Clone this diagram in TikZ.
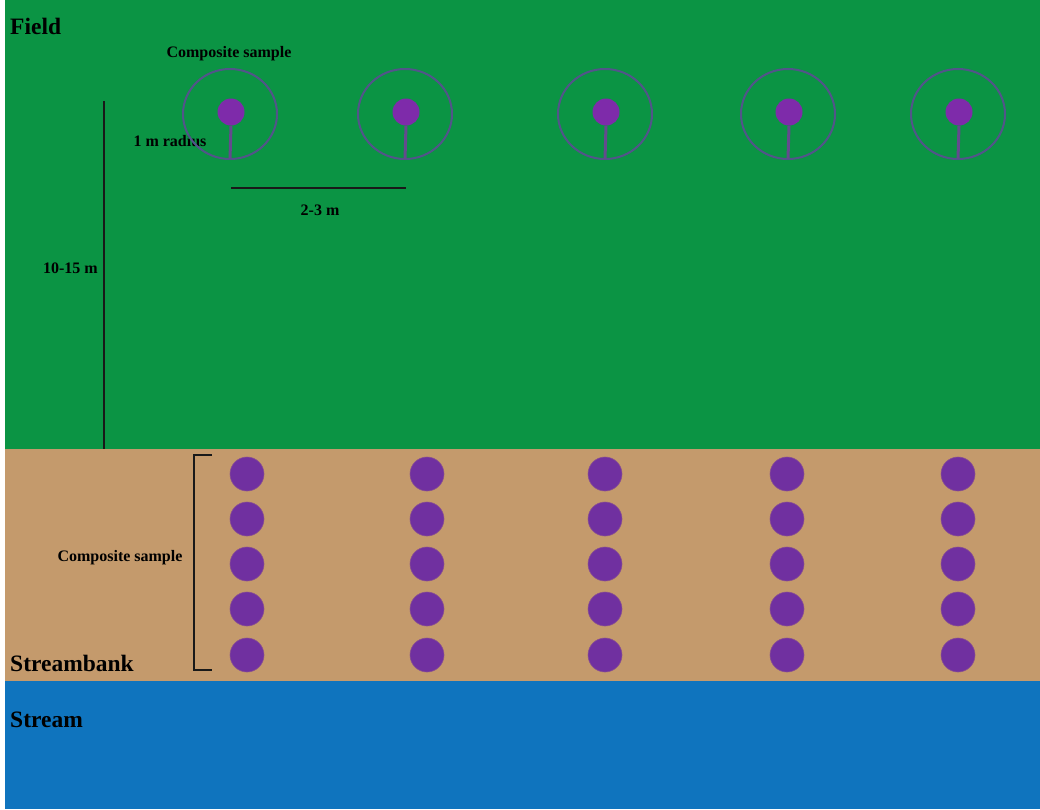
\documentclass[tikz,border=0pt]{standalone}
\usepackage{fontspec}
\setmainfont{Liberation Serif}
\definecolor{fieldgreen}{HTML}{0B9444}
\definecolor{banktan}{HTML}{C49A6C}
\definecolor{streamblue}{HTML}{0F74BE}
\definecolor{dotpurple}{HTML}{7030A0}
\definecolor{ringgray}{HTML}{52548A}
\definecolor{stemcol}{HTML}{644A8E}
\begin{document}
\begin{tikzpicture}[x=1pt,y=-1pt,
  lbl/.style={text=black, inner sep=0pt},
  small/.style={lbl, font=\bfseries\fontsize{16}{18}\selectfont},
  big/.style={lbl, font=\bfseries\fontsize{23.5}{26}\selectfont, anchor=west},
  topdot/.style={circle, fill=dotpurple!90!magenta, minimum size=27pt, inner sep=0pt},
  bankdot/.style={circle, fill=dotpurple, draw=dotpurple!70!banktan, line width=0.6pt, minimum size=34pt, inner sep=0pt},
  measure/.style={draw=black!90, line width=2.6pt}]
\useasboundingbox (0,0) rectangle (1040,809);
\fill[white] (0,0) rectangle (1040,809);
\fill[fieldgreen] (5,0) rectangle (1040,449);
\fill[banktan] (5,449) rectangle (1040,681);
\fill[streamblue] (5,681) rectangle (1040,809);
% labels
\node[big] (field) at (10,26) {Field};
\node[small] (cs1) at (229,54) {Composite sample};
\node[small] (rad) at (170,141) {1 m radius};
\node[small] (two) at (320,210) {2-3 m};
\node[small, anchor=east] (ten) at (98,268) {10-15 m};
\node[small] (cs2) at (120,558) {Composite sample};
\node[big] (bank) at (10,663) {Streambank};
\node[big] (stream) at (10,720) {Stream};
% top sampling rings
\foreach \i/\x in {1/230,2/405,3/605,4/788,5/958} {
  \draw[draw=ringgray, line width=2pt] (\x,114) ellipse [x radius=47, y radius=45];
  \coordinate (rb\i) at (\x,159);
  \node[topdot] (td\i) at (\x+1,112) {};
  \draw[stemcol, line width=3pt] (td\i.south) -- (rb\i);
}
% measurement lines
\coordinate (ha) at (231,188);
\coordinate (hb) at (406,188);
\draw[measure] (ha) -- (hb);
\coordinate (va) at (104,101);
\coordinate (vb) at (104,449);
\draw[measure] (va) -- (vb);
% bracket
\coordinate (bt) at (212,455);
\coordinate (bb) at (212,670);
\draw[measure] (bt) -- (194,455) -- (194,670) -- (bb);
% streambank dots
\foreach \c/\x in {1/247,2/427,3/605,4/787,5/958} {
  \foreach \r/\y in {1/474,2/519,3/564,4/609,5/655} {
    \node[bankdot] (bd\c\r) at (\x,\y) {};
  }
}
\end{tikzpicture}
\end{document}
